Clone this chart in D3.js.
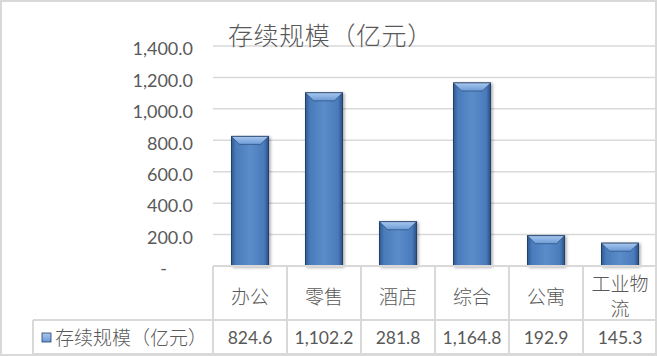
<!doctype html>
<html>
<head>
<meta charset="utf-8">
<script src="https://cdnjs.cloudflare.com/ajax/libs/d3/7.8.5/d3.min.js"></script>
<style>
  body { margin: 0; background: #fff; }
  svg { display: block; }
  text { fill: #595959; }
</style>
</head>
<body>
<svg id="chart" width="657" height="356"></svg>
<script>
var categories = ["办公", "零售", "酒店", "综合", "公寓", "工业物流"];
var values = [824.6, 1102.2, 281.8, 1164.8, 192.9, 145.3];
var yTicks = [0, 200, 400, 600, 800, 1000, 1200, 1400];
var seriesName = "存续规模（亿元）";
var title = "存续规模（亿元）";

var svg = d3.select("#chart");
var cjk = "'Noto Sans CJK SC', 'Noto Sans', sans-serif";
var num = "Lato, 'Noto Sans', sans-serif";
var lineCol = "#d9d9d9";

var x = d3.scaleBand().domain(categories).range([213, 657]).paddingInner(0).paddingOuter(0);
var y = d3.scaleLinear().domain([0, 1400]).range([266, 46]);

// defs: bar gradients + shadow
var defs = svg.append("defs");
var bodyGrad = defs.append("linearGradient").attr("id", "barBody").attr("x1", 0).attr("x2", 1).attr("y1", 0).attr("y2", 0);
bodyGrad.append("stop").attr("offset", "0%").attr("stop-color", "#2f5b93");
bodyGrad.append("stop").attr("offset", "12%").attr("stop-color", "#4a7bbb");
bodyGrad.append("stop").attr("offset", "50%").attr("stop-color", "#5b8cca");
bodyGrad.append("stop").attr("offset", "88%").attr("stop-color", "#4a7bbb");
bodyGrad.append("stop").attr("offset", "100%").attr("stop-color", "#2a5189");
var topGrad = defs.append("linearGradient").attr("id", "barTop").attr("x1", 0).attr("x2", 0).attr("y1", 0).attr("y2", 1);
topGrad.append("stop").attr("offset", "0%").attr("stop-color", "#a9c8ee");
topGrad.append("stop").attr("offset", "100%").attr("stop-color", "#6a9ad6");
var sh = defs.append("filter").attr("id", "shadow").attr("x", "-30%").attr("y", "-10%").attr("width", "160%").attr("height", "130%");
sh.append("feDropShadow").attr("dx", 1.5).attr("dy", 1).attr("stdDeviation", 1.8)
  .attr("flood-color", "#000").attr("flood-opacity", 0.35);

// outer border
svg.append("rect").attr("x", 1).attr("y", 1).attr("width", 655).attr("height", 354)
  .attr("fill", "#fff").attr("stroke", lineCol).attr("stroke-width", 2);

// gridlines
svg.append("g").selectAll("line").data(yTicks.filter(function(d) { return d > 0; }))
  .join("line")
  .attr("x1", 213).attr("x2", 655)
  .attr("y1", function(d) { return y(d); }).attr("y2", function(d) { return y(d); })
  .attr("stroke", lineCol).attr("stroke-width", 1.5);

// y axis labels
var yAxis = d3.axisLeft(y).tickValues(yTicks).tickSize(0).tickPadding(0)
  .tickFormat(function(d) { return d === 0 ? "-" : d3.format(",.1f")(d); });
var ya = svg.append("g").attr("transform", "translate(193,3)").call(yAxis);
ya.select(".domain").remove();
ya.selectAll("text").attr("font-family", num).attr("font-size", 18).attr("fill", "#595959")
  .attr("dx", function(d) { return d === 0 ? -26 : 0; });

// bars
var bw = x.bandwidth() * 0.5;
var bev = 8;
var bars = svg.append("g").selectAll("g").data(values).join("g")
  .attr("filter", "url(#shadow)");
bars.append("rect")
  .attr("x", function(d, i) { return x(categories[i]) + (x.bandwidth() - bw) / 2; })
  .attr("y", function(d) { return y(d); })
  .attr("width", bw)
  .attr("height", function(d) { return y(0) - y(d); })
  .attr("fill", "url(#barBody)")
  .attr("stroke", "#23406a").attr("stroke-width", 1);
bars.append("path")
  .attr("d", function(d, i) {
    var x0 = x(categories[i]) + (x.bandwidth() - bw) / 2, x1 = x0 + bw, t = y(d);
    var b = Math.min(bev, (y(0) - t) / 2);
    return "M" + x0 + "," + t + "L" + x1 + "," + t + "L" + (x1 - b) + "," + (t + b) +
      "L" + (x0 + b) + "," + (t + b) + "Z";
  })
  .attr("fill", "url(#barTop)")
  .attr("stroke", "#23406a").attr("stroke-width", 0.6);

// data table lines
var tbl = svg.append("g").attr("stroke", lineCol).attr("stroke-width", 2);
tbl.append("line").attr("x1", 213).attr("x2", 656).attr("y1", 266).attr("y2", 266);
tbl.append("line").attr("x1", 33).attr("x2", 656).attr("y1", 320).attr("y2", 320);
tbl.append("line").attr("x1", 33).attr("x2", 656).attr("y1", 354).attr("y2", 354);
tbl.append("line").attr("x1", 33).attr("x2", 33).attr("y1", 320).attr("y2", 354);
tbl.selectAll("line.v").data(categories).join("line").attr("class", "v")
  .attr("x1", function(d) { return x(d); }).attr("x2", function(d) { return x(d); })
  .attr("y1", 266).attr("y2", 354);

// category labels (wrap when wider than cell)
svg.append("g").selectAll("text").data(categories).join("text")
  .attr("font-family", cjk).attr("font-weight", 300).attr("font-size", 19).attr("text-anchor", "middle")
  .attr("fill", "#595959")
  .each(function(d) {
    var t = d3.select(this), cx = x(d) + x.bandwidth() / 2;
    var maxW = x.bandwidth() - 12;
    var lines = [], cur = "";
    t.text(d);
    if (this.getComputedTextLength() <= maxW) {
      lines = [d];
    } else {
      for (var k = 0; k < d.length; k++) {
        t.text(cur + d[k]);
        if (this.getComputedTextLength() > maxW && cur) { lines.push(cur); cur = d[k]; }
        else cur += d[k];
      }
      lines.push(cur);
    }
    t.text(null);
    var lh = 25, y0 = 297 - (lines.length - 1) * lh / 2;
    lines.forEach(function(l, j) {
      t.append("tspan").attr("x", cx).attr("y", y0 + j * lh).attr("dy", "0.35em").text(l);
    });
  });

// values row
svg.append("g").selectAll("text").data(values).join("text")
  .attr("x", function(d, i) { return x(categories[i]) + x.bandwidth() / 2; })
  .attr("y", 338).attr("dy", "0.35em")
  .attr("text-anchor", "middle")
  .attr("font-family", num).attr("font-size", 17.5).attr("fill", "#595959")
  .text(function(d) { return d3.format(",.1f")(d); });

// legend key + series name
svg.append("rect").attr("x", 42).attr("y", 333).attr("width", 9).attr("height", 9)
  .attr("fill", "url(#barTop)").attr("stroke", "#23406a").attr("stroke-width", 0.8);
svg.append("text").attr("x", 55).attr("y", 338).attr("dy", "0.35em")
  .attr("font-family", cjk).attr("font-weight", 300).attr("font-size", 19).attr("fill", "#595959")
  .text(seriesName);

// title
svg.append("text").attr("x", 228).attr("y", 36).attr("dy", "0.35em")
  .attr("font-family", cjk).attr("font-weight", 300).attr("font-size", 25)
  .attr("letter-spacing", 0.6).attr("fill", "#595959")
  .text(title);
</script>
</body>
</html>
